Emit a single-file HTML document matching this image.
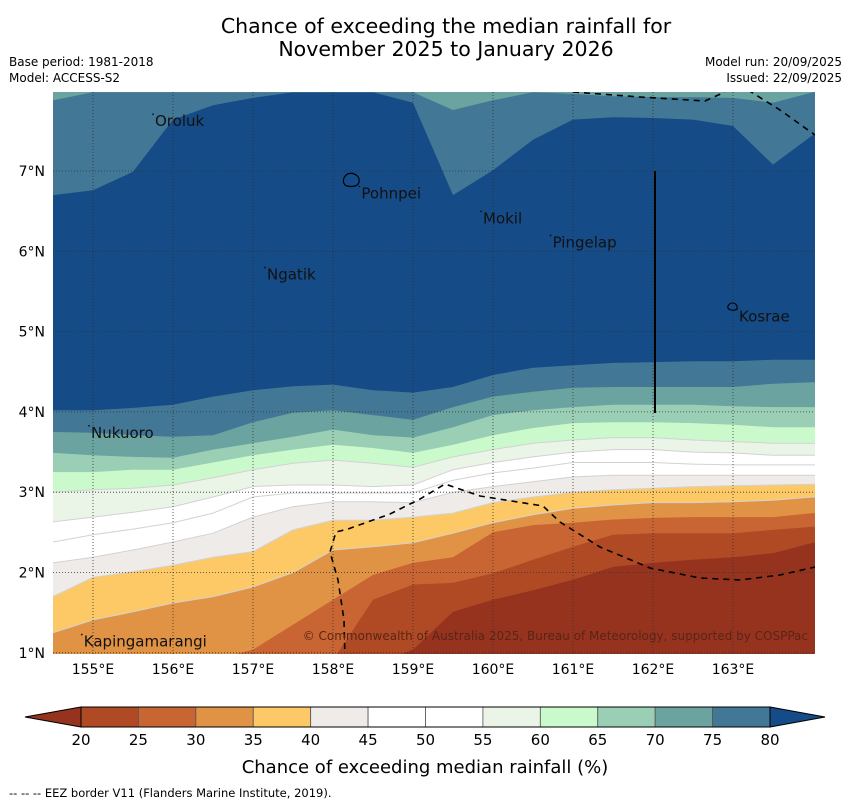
<!DOCTYPE html>
<html><head><meta charset="utf-8"><style>
body{margin:0;background:#fff;}
svg{display:block;font-family:"DejaVu Sans","Liberation Sans",sans-serif;}
</style></head><body>
<svg id="chart" width="850" height="804" viewBox="0 0 850 804">
<text x="446" y="33" font-size="20.5" text-anchor="middle">Chance of exceeding the median rainfall for</text>
<text x="446" y="56" font-size="20.5" text-anchor="middle">November 2025 to January 2026</text>
<text x="9" y="66" font-size="12">Base period: 1981-2018</text>
<text x="9" y="82" font-size="12">Model: ACCESS-S2</text>
<text x="842" y="66" font-size="12" text-anchor="end">Model run: 20/09/2025</text>
<text x="842" y="82" font-size="12" text-anchor="end">Issued: 22/09/2025</text>
<defs><clipPath id="mapclip"><rect x="53" y="92" width="762" height="562"/></clipPath></defs>
<g id="map" clip-path="url(#mapclip)"></g>
<g id="axes"></g>
<g id="cbar"></g>
<text x="425" y="773" font-size="18" text-anchor="middle">Chance of exceeding median rainfall (%)</text>
<text x="9" y="797" font-size="11.5">--  --  -- EEZ border V11 (Flanders Marine Institute, 2019).</text>
</svg>
<script>
const lons=[154.5,155,155.5,156,156.5,157,157.5,158,158.5,159,159.5,160,160.5,161,161.5,162,162.5,163,163.5,164];
const thresholds=[20,25,30,35,40,45,50,55,60,65,70,75,80];
const b20=[0.85,0.85,0.85,0.85,0.85,0.85,0.85,0.85,0.85,1.04,1.51,1.66,1.78,1.91,2.07,2.12,2.16,2.19,2.24,2.37];
const b25=[0.85,0.85,0.85,0.85,0.85,0.85,0.85,0.91,1.66,1.85,1.87,1.99,2.16,2.32,2.47,2.49,2.49,2.49,2.53,2.57];
const b30=[0.91,0.91,0.91,0.91,0.91,1.04,1.35,1.66,1.97,2.12,2.19,2.50,2.59,2.62,2.66,2.68,2.69,2.69,2.69,2.74];
const b35=[1.25,1.41,1.51,1.62,1.70,1.82,2.00,2.28,2.32,2.37,2.49,2.62,2.72,2.80,2.84,2.87,2.87,2.88,2.90,2.94];
const b40=[1.70,1.94,2.01,2.09,2.19,2.26,2.53,2.65,2.65,2.69,2.74,2.87,2.94,3.00,3.03,3.05,3.07,3.08,3.09,3.10];
const b45=[2.12,2.19,2.28,2.38,2.49,2.69,2.82,2.88,2.88,2.87,3.00,3.07,3.13,3.19,3.21,3.21,3.21,3.21,3.21,3.21];
const b50=[2.38,2.47,2.54,2.62,2.74,2.94,2.99,2.99,2.99,2.99,3.15,3.24,3.30,3.37,3.37,3.37,3.35,3.34,3.34,3.34];
const b55=[2.63,2.69,2.75,2.82,2.94,3.07,3.09,3.09,3.07,3.09,3.28,3.37,3.44,3.50,3.53,3.53,3.50,3.49,3.46,3.46];
const b60=[3.00,3.03,3.05,3.09,3.18,3.28,3.36,3.40,3.36,3.31,3.44,3.53,3.61,3.65,3.68,3.68,3.65,3.63,3.61,3.61];
const b65=[3.25,3.25,3.28,3.28,3.37,3.46,3.53,3.59,3.55,3.49,3.59,3.71,3.80,3.86,3.87,3.87,3.86,3.84,3.81,3.81];
const b70=[3.49,3.46,3.44,3.43,3.53,3.61,3.69,3.78,3.71,3.68,3.81,3.96,4.02,4.06,4.09,4.09,4.09,4.07,4.06,4.06];
const b75=[3.75,3.74,3.71,3.69,3.71,3.87,3.99,4.02,3.96,3.90,4.06,4.19,4.25,4.30,4.31,4.31,4.31,4.31,4.35,4.37];
const b80=[4.02,4.02,4.05,4.09,4.19,4.27,4.32,4.34,4.27,4.24,4.31,4.46,4.55,4.58,4.61,4.62,4.63,4.63,4.65,4.65];
const top80=[6.70,6.76,6.99,7.64,7.82,7.91,7.98,7.98,7.98,7.85,6.70,7.01,7.39,7.64,7.67,7.66,7.64,7.56,7.08,7.45];
const top75=[7.88,7.98,7.98,7.98,7.98,7.98,7.98,7.98,7.98,7.98,7.76,7.88,7.98,7.96,7.93,7.92,7.92,7.91,7.85,7.98];
const colors=['#96331f','#b04a25','#c96533','#e09245','#fdc966','#efebe8','#ffffff','#ffffff','#eaf5e8','#caf9cb','#9bcfb5','#6ba3a0','#427895','#154b86'];
const lonTicks=[155,156,157,158,159,160,161,162,163];
const latTicks=[1,2,3,4,5,6,7];
const places=[["Oroluk",155.75,7.62],["Pohnpei",158.33,6.72],["Mokil",159.85,6.41],["Pingelap",160.72,6.11],["Ngatik",157.15,5.71],["Kosrae",163.05,5.19],["Nukuoro",154.95,3.74],["Kapingamarangi",154.86,1.14]];
const NS='http://www.w3.org/2000/svg';
const X=lon=>93+(lon-155)*80;
const Y=lat=>171+(7-lat)*80.3;
function mk(tag,attrs,parent){const e=document.createElementNS(NS,tag);for(const k in attrs)e.setAttribute(k,attrs[k]);parent.appendChild(e);return e;}
const map=document.getElementById('map');
const bg=mk('rect',{x:53,y:92,width:762,height:562,fill:colors[0]},map);


const bounds=[b20,b25,b30,b35,b40,b45,b50,b55,b60,b65,b70,b75,b80];
function line(arr){return arr.map((v,i)=>X(lons[i]).toFixed(1)+','+Y(v).toFixed(1));}
bounds.forEach((arr,k)=>{
  const pts=[X(lons[0])-5+','+Y(arr[0]).toFixed(1)].concat(line(arr),[X(164)+10+','+Y(arr[arr.length-1]).toFixed(1),X(164)+10+','+Y(8.3),X(154.5)-5+','+Y(8.3)]);
  const p=mk('polygon',{points:pts.join(' '),fill:colors[k+1]},map);
  
  
  if(k>=3&&k<=8){
    const l=mk('polyline',{points:[X(lons[0])-5+','+Y(arr[0]).toFixed(1)].concat(line(arr),[X(164)+10+','+Y(arr[arr.length-1]).toFixed(1)]).join(' '),fill:'none',stroke:'#d2d2d2','stroke-width':1},map);
    
    
  }
});
[[top80,colors[12]],[top75,colors[11]]].forEach(([arr,c],k)=>{
  const pts=[X(lons[0])-5+','+Y(arr[0]).toFixed(1)].concat(line(arr),[X(164)+10+','+Y(arr[arr.length-1]).toFixed(1),X(164)+10+','+Y(8.3),X(154.5)-5+','+Y(8.3)]);
  const p=mk('polygon',{points:pts.join(' '),fill:c},map);
  
  
});
lonTicks.forEach(l=>{const g=mk('line',{x1:X(l),x2:X(l),y1:92,y2:654,stroke:'#333','stroke-width':0.8,'stroke-dasharray':'1,2'},map);

});
latTicks.forEach(l=>{const g=mk('line',{x1:53,x2:815,y1:Y(l),y2:Y(l),stroke:'#333','stroke-width':0.8,'stroke-dasharray':'1,2'},map);

});
const eez1=mk('polyline',{points:'345,660 344,620 338,580 330,552 336,532 348,529 390,514 420,499 445,484 480,496 543,506 560,522 600,547 650,568 700,578 740,580 780,575 815,567',fill:'none',stroke:'#000','stroke-width':1.6,'stroke-dasharray':'6,5'},map);


const eez2=mk('polyline',{points:'573,92 640,97 705,101 725,92',fill:'none',stroke:'#000','stroke-width':1.6,'stroke-dasharray':'6,5'},map);


const eez3=mk('polyline',{points:'748,90 780,110 815,135',fill:'none',stroke:'#000','stroke-width':1.6,'stroke-dasharray':'6,5'},map);


const vl=mk('line',{x1:655,x2:655,y1:171,y2:413,stroke:'#000','stroke-width':2},map);


const isl=mk('path',{d:'M344,178 c2,-5 8,-6 12,-3 c4,2 4,8 1,10 c-3,2 -9,2 -12,0 c-2,-2 -2,-5 -1,-7z',fill:'none',stroke:'#000','stroke-width':1.2},map);


const isl2=mk('path',{d:'M728,306 c2,-4 7,-4 9,0 c1,3 -2,5 -5,4 c-2,0 -5,-1 -4,-4z',fill:'none',stroke:'#000','stroke-width':1.1},map);


places.forEach(([n,lo,la])=>{
  const t=mk('text',{x:X(lo)+2,y:Y(la)+5,'font-size':15,fill:'#111'},map);t.textContent=n;
  
  
  const d=mk('circle',{cx:X(lo),cy:Y(la)-7,r:0.9,fill:'#111'},map);
  
  
});
const cp=mk('text',{x:808,y:640,'font-size':12,fill:'#5a2416','text-anchor':'end'},map);
cp.textContent='© Commonwealth of Australia 2025, Bureau of Meteorology, supported by COSPPac';


const axes=document.getElementById('axes');
lonTicks.forEach(l=>{const t=mk('text',{x:X(l),y:674,'font-size':14,'text-anchor':'middle'},axes);t.textContent=l+'°E';

});
latTicks.forEach(l=>{const t=mk('text',{x:45,y:Y(l)+5,'font-size':14,'text-anchor':'end'},axes);t.textContent=l+'°N';

});
const cb=document.getElementById('cbar');
const cbTicks=[20,25,30,35,40,45,50,55,60,65,70,75,80];
const cx=v=>81+(v-20)*(689/60);
const left=mk('polygon',{points:`${cx(20)},707 ${cx(20)},727 25,717`,fill:colors[0],stroke:'#000','stroke-width':1},cb);


const right=mk('polygon',{points:`${cx(80)},707 ${cx(80)},727 825,717`,fill:colors[13],stroke:'#000','stroke-width':1},cb);


for(let i=0;i<12;i++){
  const r=mk('rect',{x:cx(cbTicks[i]),y:707,width:cx(cbTicks[i+1])-cx(cbTicks[i]),height:20,fill:colors[i+1],stroke:'#555','stroke-width':0.8},cb);
  
  
}
const fr=mk('rect',{x:cx(20),y:707,width:cx(80)-cx(20),height:20,fill:'none',stroke:'#000','stroke-width':1},cb);


cbTicks.forEach(v=>{const t=mk('text',{x:cx(v),y:745,'font-size':15,'text-anchor':'middle'},cb);t.textContent=v;

});
</script>
</body></html>
